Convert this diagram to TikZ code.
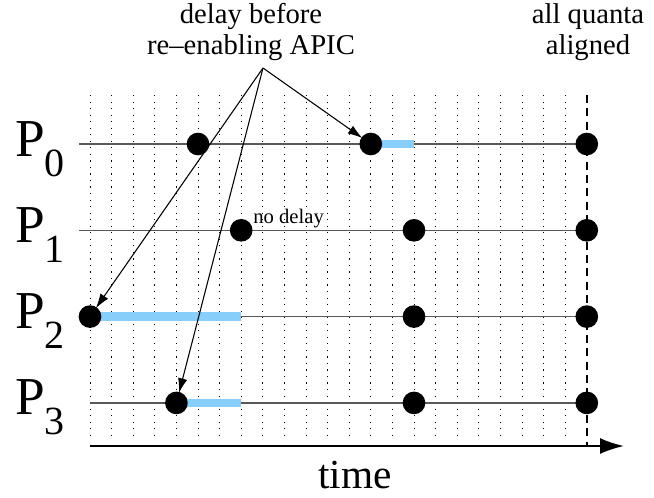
\documentclass[tikz,border=0pt]{standalone}
\usepackage{fontspec}
\setmainfont{Liberation Serif}
\usetikzlibrary{arrows.meta}
\definecolor{barblue}{RGB}{135,206,250}
\tikzset{
    proc-line/.style = {draw=black!65, line width=1.1pt},
    grid-line/.style = {line width=0.6pt, dash pattern=on 0.9pt off 4pt},
    align-line/.style = {line width=1.9pt, dash pattern=on 6pt off 4pt},
    delay-bar/.style = {draw=barblue, line width=6.5pt},
    proc-dot/.style = {circle, fill=black, minimum size=17pt, inner sep=0pt},
    big-label/.style = {font=\fontsize{21.5}{23.5}\selectfont, align=center, inner sep=0pt},
    proc-label/.style = {font=\fontsize{40}{40}\selectfont, anchor=base west, inner sep=0pt},
    note-arrow/.style = {-{Latex[length=11pt,width=7pt]}, line width=0.8pt, shorten >=-1pt},
}
\begin{document}
\begin{tikzpicture}[x=0.75pt, y=-0.75pt]
\useasboundingbox (0,0) rectangle (654,497);
\foreach \k in {0,...,22}
    \draw[grid-line] ({90+21.6*\k},95) -- ({90+21.6*\k},440);
\coordinate (align-top) at (587,95);
\coordinate (align-bot) at (587,446);
\draw[align-line] (align-top) -- (align-bot);
\foreach \i/\s in {0/79,1/79,2/90,3/90} {
    \coordinate (row\i-start) at (\s,{144+86.3*\i});
    \coordinate (row\i-end) at (587,{144+86.3*\i});
    \draw[proc-line] (row\i-start) -- (row\i-end);
    \node[proc-label] (lbl\i) at (15,{156+86.3*\i}) {P\raisebox{-15pt}{\fontsize{30}{30}\selectfont\i}};
}
\foreach \i/\a/\b in {0/13/15,2/0/7,3/4/7}
    \draw[delay-bar] ({90+21.6*\a},{144+86.3*\i}) -- ({90+21.6*\b},{144+86.3*\i});
\foreach \i/\k/\n in {0/5/a,0/13/b,0/23/c,1/7/a,1/15/b,1/23/c,2/0/a,2/15/b,2/23/c,3/4/a,3/15/b,3/23/c}
    \node[proc-dot] (dot\i\n) at ({90+21.6*\k},{144+86.3*\i}) {};
\coordinate (t-start) at (90,446);
\coordinate (t-end) at (624,446);
\draw[-{Latex[length=18pt,width=12pt]}, line width=1.5pt] (t-start) -- (t-end);
\node[font=\fontsize{31}{31}\selectfont, anchor=base, inner sep=0pt] (time) at (355,488) {time};
\node[big-label, anchor=north] (delay) at (251,3) {delay before\\re--enabling APIC};
\node[big-label, anchor=north] (quanta) at (588,3) {all quanta\\aligned};
\node[font=\fontsize{15.5}{15.5}\selectfont, anchor=base west, inner sep=0pt] (nodelay) at (253,223) {no delay};
\coordinate (apex) at (263,68);
\draw[note-arrow] (apex) -- (dot0b);
\draw[note-arrow] (apex) -- (dot2a);
\draw[note-arrow] (apex) -- (dot3a);
\end{tikzpicture}
\end{document}
